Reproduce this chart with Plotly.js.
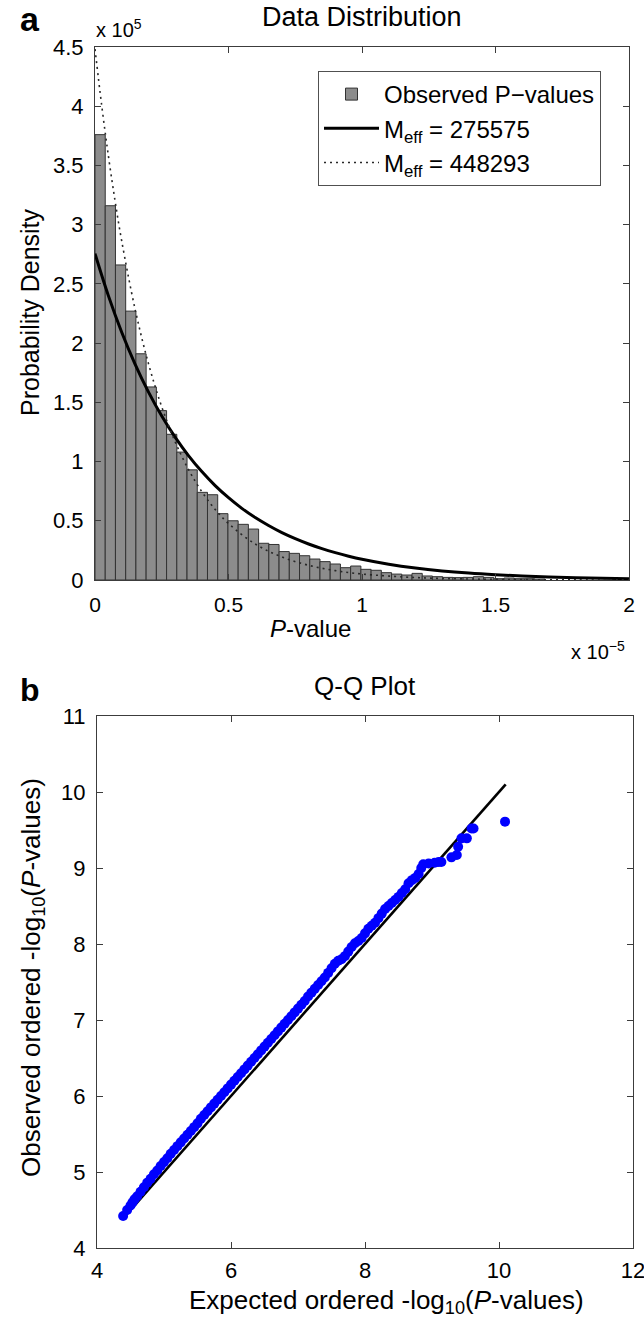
<!DOCTYPE html>
<html>
<head>
<meta charset="utf-8">
<script src="https://cdn.plot.ly/plotly-3.0.1.min.js"></script>
<style>
html,body{margin:0;padding:0;background:#fff;}
#chart{width:644px;height:1321px;}
</style>
</head>
<body>
<div id="chart"></div>
<script>
// ---------- Panel a: histogram of observed P-values (x in units of 1e-5, y in units of 1e5) ----------
const binWidth = 0.0383;
const observedDensity = [3.76, 3.16, 2.66, 2.27, 1.91, 1.63, 1.43, 1.23, 1.08, 0.93,
  0.74, 0.72, 0.56, 0.50, 0.47, 0.43, 0.31, 0.30, 0.24, 0.225,
  0.205, 0.177, 0.155, 0.135, 0.104, 0.118, 0.09, 0.082, 0.062, 0.05,
  0.042, 0.056, 0.034, 0.028, 0.022, 0.02, 0.022, 0.028, 0.022, 0.011,
  0.017, 0.011, 0.011, 0.008];

// M_eff = 275575 curve (solid)
const curveAx = [0, 0.05, 0.1, 0.15, 0.2, 0.25, 0.3, 0.35, 0.4, 0.45, 0.5, 0.55, 0.6, 0.65, 0.7,
  0.75, 0.8, 0.85, 0.9, 0.95, 1.0, 1.1, 1.2, 1.3, 1.4, 1.5, 1.6, 1.7, 1.8, 1.9, 2.0];
const curveAy = [2.756, 2.401, 2.092, 1.823, 1.588, 1.384, 1.206, 1.050, 0.915, 0.797, 0.695, 0.605,
  0.527, 0.460, 0.400, 0.349, 0.304, 0.265, 0.231, 0.201, 0.175, 0.133, 0.101, 0.0766, 0.0582,
  0.0442, 0.0335, 0.0255, 0.0193, 0.0147, 0.0111];

// M_eff = 448293 curve (dotted)
const curveBx = [0, 0.025, 0.05, 0.075, 0.1, 0.15, 0.2, 0.25, 0.3, 0.35, 0.4, 0.45, 0.5, 0.6, 0.7,
  0.8, 0.9, 1.0, 1.2, 1.4, 1.6, 1.8, 2.0];
const curveBy = [4.483, 4.008, 3.583, 3.203, 2.863, 2.288, 1.829, 1.462, 1.168, 0.934, 0.746, 0.596,
  0.477, 0.304, 0.194, 0.124, 0.0793, 0.0507, 0.0207, 0.0084, 0.0034, 0.0014, 0.0006];

const histXTicks = [0, 0.5, 1, 1.5, 2];
const histYTicks = [0, 0.5, 1, 1.5, 2, 2.5, 3, 3.5, 4, 4.5];

// ---------- Panel b: Q-Q plot ----------
const qqExpected = [4.39, 4.45, 4.50, 4.53, 4.56, 4.60, 4.65, 4.70, 4.75, 4.80, 4.85, 4.90, 4.95,
  5.00, 5.05, 5.10, 5.15, 5.20, 5.25, 5.30, 5.35, 5.40, 5.45, 5.50, 5.55, 5.60, 5.65, 5.70, 5.75,
  5.80, 5.85, 5.90, 5.95, 6.00, 6.05, 6.10, 6.15, 6.20, 6.25, 6.30, 6.35, 6.40, 6.45, 6.50, 6.55,
  6.60, 6.65, 6.70, 6.75, 6.80, 6.85, 6.90, 6.95, 7.00, 7.05, 7.10, 7.15, 7.20, 7.25, 7.30, 7.35,
  7.40, 7.45, 7.50, 7.55, 7.60, 7.65, 7.70, 7.75, 7.80, 7.85, 7.90, 7.95, 8.00, 8.05, 8.10, 8.15,
  8.20, 8.25, 8.30, 8.35, 8.40, 8.45, 8.50, 8.55, 8.60, 8.65, 8.70, 8.75, 8.80, 8.84, 8.87, 8.95,
  9.04, 9.10, 9.14, 9.29, 9.37, 9.39, 9.44, 9.52, 9.59, 9.62, 10.09];
const qqObserved = [4.42, 4.50, 4.56, 4.60, 4.64, 4.68, 4.74, 4.80, 4.86, 4.91, 4.97, 5.02, 5.08,
  5.13, 5.18, 5.24, 5.29, 5.34, 5.39, 5.44, 5.49, 5.54, 5.59, 5.64, 5.70, 5.75, 5.80, 5.85, 5.90,
  5.95, 6.00, 6.05, 6.10, 6.15, 6.20, 6.25, 6.30, 6.35, 6.40, 6.45, 6.50, 6.55, 6.60, 6.65, 6.70,
  6.75, 6.80, 6.85, 6.90, 6.95, 7.00, 7.05, 7.10, 7.15, 7.20, 7.25, 7.31, 7.36, 7.41, 7.46, 7.51,
  7.56, 7.62, 7.68, 7.74, 7.78, 7.80, 7.84, 7.90, 7.96, 8.01, 8.04, 8.08, 8.14, 8.20, 8.24, 8.28,
  8.34, 8.40, 8.46, 8.50, 8.54, 8.58, 8.62, 8.67, 8.72, 8.80, 8.84, 8.87, 8.92, 9.00, 9.05, 9.06,
  9.07, 9.08, 9.08, 9.14, 9.17, 9.28, 9.39, 9.39, 9.52, 9.52, 9.61];
const refLine = [4.4, 10.1];
const qqXTicks = [4, 6, 8, 10, 12];
const qqYTicks = [4, 5, 6, 7, 8, 9, 10, 11];

// ---------- build ----------
const W = 644, H = 1321;
const px = v => v / W;
const py = v => 1 - v / H;

const binCenters = observedDensity.map((_, i) => (i + 0.5) * binWidth);

const FONT_A = 'Liberation Sans, Arial, sans-serif';

const traces = [
  {
    type: 'bar', x: binCenters, y: observedDensity, width: binWidth,
    marker: {color: 'rgb(140,140,140)', line: {color: 'rgb(50,50,50)', width: 1}},
    name: 'Observed P\u2212values', xaxis: 'x', yaxis: 'y', hoverinfo: 'skip'
  },
  {
    type: 'scatter', mode: 'lines', x: curveAx, y: curveAy,
    line: {color: 'black', width: 3, shape: 'spline'},
    name: 'M<sub>eff</sub> = 275575', xaxis: 'x', yaxis: 'y'
  },
  {
    type: 'scatter', mode: 'lines', x: curveBx, y: curveBy,
    line: {color: 'rgb(40,40,40)', width: 1.6, dash: '2px,4px', shape: 'spline'},
    name: 'M<sub>eff</sub> = 448293', xaxis: 'x', yaxis: 'y'
  },
  {
    type: 'scatter', mode: 'lines', x: refLine, y: refLine,
    line: {color: 'black', width: 2.6},
    showlegend: false, xaxis: 'x2', yaxis: 'y2'
  },
  {
    type: 'scatter', mode: 'markers', x: qqExpected, y: qqObserved,
    marker: {color: 'rgb(0,0,255)', size: 10},
    showlegend: false, xaxis: 'x2', yaxis: 'y2'
  }
];

const axisCommon = {
  showline: true, linecolor: 'rgb(60,60,60)', linewidth: 1, mirror: 'ticks',
  ticks: 'inside', ticklen: 6, tickcolor: 'rgb(60,60,60)', showgrid: false, zeroline: false,
  fixedrange: true, ticklabeloverflow: 'allow'
};

const layout = {
  width: W, height: H,
  margin: {l: 0, r: 0, t: 0, b: 0},
  paper_bgcolor: 'white', plot_bgcolor: 'white',
  font: {family: FONT_A, color: 'black'},
  showlegend: true,
  bargap: 0,
  legend: {
    x: px(318), y: py(71), xanchor: 'left', yanchor: 'top',
    bgcolor: 'white', bordercolor: 'rgb(80,80,80)', borderwidth: 1,
    font: {family: FONT_A, size: 24, color: 'black'},
    itemwidth: 55, tracegroupgap: 0
  },
  xaxis: Object.assign({}, axisCommon, {
    domain: [px(95), px(629)], anchor: 'y', range: [0, 2],
    tickvals: histXTicks, ticktext: histXTicks.map(String),
    tickfont: {size: 21}, ticklabelstandoff: 6
  }),
  yaxis: Object.assign({}, axisCommon, {
    domain: [py(580), py(47)], anchor: 'x', range: [0, 4.5],
    tickvals: histYTicks, ticktext: histYTicks.map(String),
    tickfont: {size: 22}, ticklabelstandoff: 6
  }),
  xaxis2: Object.assign({}, axisCommon, {
    domain: [px(97), px(633)], anchor: 'y2', range: [4, 12],
    tickvals: qqXTicks, ticktext: qqXTicks.map(String),
    tickfont: {size: 22}, ticklabelstandoff: 3
  }),
  yaxis2: Object.assign({}, axisCommon, {
    domain: [py(1248), py(716)], anchor: 'x2', range: [4, 11],
    tickvals: qqYTicks, ticktext: qqYTicks.map(String),
    tickfont: {size: 22}, ticklabelstandoff: 6
  }),
  annotations: [
    {text: '<b>a</b>', x: px(18), y: py(19), xref: 'paper', yref: 'paper', xanchor: 'left', yanchor: 'middle', showarrow: false, font: {size: 34, family: FONT_A}},
    {text: 'Data Distribution', x: px(362), y: py(17), xref: 'paper', yref: 'paper', xanchor: 'center', yanchor: 'middle', showarrow: false, font: {size: 27}},
    {text: 'x 10<sup>5</sup>', x: px(94), y: py(28), xref: 'paper', yref: 'paper', xanchor: 'left', yanchor: 'middle', showarrow: false, font: {size: 20}},
    {text: 'Probability Density', x: px(30), y: py(312), xref: 'paper', yref: 'paper', xanchor: 'center', yanchor: 'middle', textangle: -90, showarrow: false, font: {size: 25}},
    {text: '<i>P</i>-value', x: px(310), y: py(628), xref: 'paper', yref: 'paper', xanchor: 'center', yanchor: 'middle', showarrow: false, font: {size: 24}},
    {text: 'x 10<sup>\u22125</sup>', x: px(627), y: py(650), xref: 'paper', yref: 'paper', xanchor: 'right', yanchor: 'middle', showarrow: false, font: {size: 20}},
    {text: '<b>b</b>', x: px(18), y: py(690), xref: 'paper', yref: 'paper', xanchor: 'left', yanchor: 'middle', showarrow: false, font: {size: 32, family: FONT_A}},
    {text: 'Q-Q Plot', x: px(365), y: py(686), xref: 'paper', yref: 'paper', xanchor: 'center', yanchor: 'middle', showarrow: false, font: {size: 26}},
    {text: 'Expected ordered -log<sub>10</sub>(<i>P</i>-values)', x: px(386), y: py(1301), xref: 'paper', yref: 'paper', xanchor: 'center', yanchor: 'middle', showarrow: false, font: {size: 26}},
    {text: 'Observed ordered -log<sub>10</sub>(<i>P</i>-values)', x: px(32), y: py(978), xref: 'paper', yref: 'paper', xanchor: 'center', yanchor: 'middle', textangle: -90, showarrow: false, font: {size: 26}}
  ]
};

Plotly.newPlot('chart', traces, layout, {displayModeBar: false, staticPlot: true});
</script>
</body>
</html>
